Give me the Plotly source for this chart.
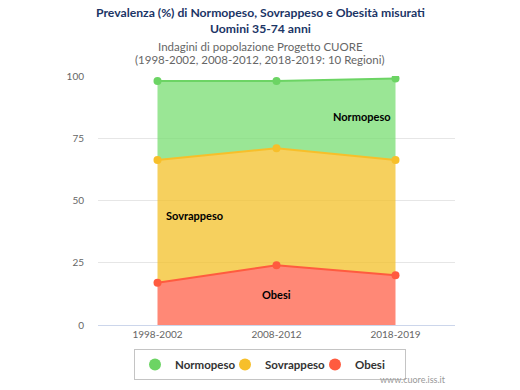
import plotly.graph_objects as go

categories = ["1998-2002", "2008-2012", "2018-2019"]
obesi = [17, 24, 20]
sovrappeso = [49.3, 47, 46.3]
normopeso = [31.7, 27, 32.7]
series_names = ["Normopeso", "Sovrappeso", "Obesi"]
y_ticks = [0, 25, 50, 75, 100]

line_colors = {"Normopeso": "#6cd464", "Sovrappeso": "#f7bf2a", "Obesi": "#ff5b3f"}
fill_colors = {"Normopeso": "rgba(120,221,114,0.75)", "Sovrappeso": "rgba(243,192,40,0.75)", "Obesi": "rgba(255,96,72,0.75)"}

FONT = "Lato"
W, H = 520, 390
PL, PR, PT, PB = 98, 455, 76, 325
L, T = PL, PT
R, B = W - PR, H - PB
PW, PH = PR - PL, PB - PT


def px_x(x):
    return (x - PL) / PW


def px_y(y):
    return (PB - y) / PH


fig = go.Figure()
for name, vals in [("Obesi", obesi), ("Sovrappeso", sovrappeso), ("Normopeso", normopeso)]:
    fig.add_trace(go.Scatter(
        x=categories, y=vals, name=name, stackgroup="one", mode="lines+markers",
        line=dict(color=line_colors[name], width=2),
        marker=dict(color=line_colors[name], size=8),
        fillcolor=fill_colors[name], showlegend=False, hoverinfo="skip"))

# legend entries
for name in series_names:
    fig.add_trace(go.Scatter(x=[categories[0]], y=[None], mode="markers", name="<b>" + name + "</b>",
                             marker=dict(color=line_colors[name], size=12), showlegend=True))

# series labels
cum1 = [o + s for o, s in zip(obesi, sovrappeso)]
cum2 = [c + n for c, n in zip(cum1, normopeso)]
labels = [
    ("Normopeso", 1.72, (cum1[2] + cum2[2]) / 2 + 1),
    ("Sovrappeso", 0.31, 44),
    ("Obesi", 1.0, 12.4),
]
for text, lx, ly in labels:
    fig.add_annotation(x=lx, y=ly, xref="x", yref="y", text="<b>" + text + "</b>", showarrow=False,
                       font=dict(family=FONT, size=11, color="#000"))

title_lines = ["Prevalenza (%) di Normopeso, Sovrappeso e Obesità misurati", "Uomini 35-74 anni"]
subtitle_lines = ["Indagini di popolazione Progetto CUORE", "(1998-2002, 2008-2012, 2018-2019: 10 Regioni)"]
for txt, yc in zip(title_lines, [13, 28]):
    fig.add_annotation(x=px_x(260), y=px_y(yc), xref="paper", yref="paper", xanchor="center", yanchor="middle",
                       text="<b>" + txt + "</b>", showarrow=False, font=dict(family=FONT, size=12.2, color="#1b3566"))
for txt, yc in zip(subtitle_lines, [46, 59]):
    fig.add_annotation(x=px_x(260), y=px_y(yc), xref="paper", yref="paper", xanchor="center", yanchor="middle",
                       text=txt, showarrow=False, font=dict(family=FONT, size=11.5, color="#666"))
fig.add_annotation(x=px_x(448), y=px_y(379), xref="paper", yref="paper", xanchor="right", yanchor="middle",
                   text="www.cuore.iss.it", showarrow=False, font=dict(family=FONT, size=9, color="#999"))

fig.update_layout(
    width=W, height=H,
    margin=dict(l=L, r=R, t=T, b=B, autoexpand=False),
    paper_bgcolor="white", plot_bgcolor="white",
    xaxis=dict(range=[-0.5, 2.5], showgrid=False, showline=True, linecolor="#ccd6eb", linewidth=1,
               ticks="", automargin=False, tickfont=dict(family=FONT, size=10, color="#666"), fixedrange=True),
    yaxis=dict(range=[0, 100], tickvals=y_ticks, showgrid=True, gridcolor="#e6e6e6", zeroline=False,
               automargin=False, showline=False, ticklabelstandoff=13, fixedrange=True,
               tickfont=dict(family=FONT, size=10, color="#666")),
    legend=dict(orientation="h", x=px_x(134), xanchor="left", y=px_y(349), yanchor="top",
                bordercolor="#c4c4c4", borderwidth=1, bgcolor="white", traceorder="normal",
                font=dict(family=FONT, size=11.5, color="#333"), itemwidth=30, entrywidth=45),
    showlegend=True,
)

fig.write_html("out.html", config={"displayModeBar": False},
               post_script="document.body.style.margin='0';")
